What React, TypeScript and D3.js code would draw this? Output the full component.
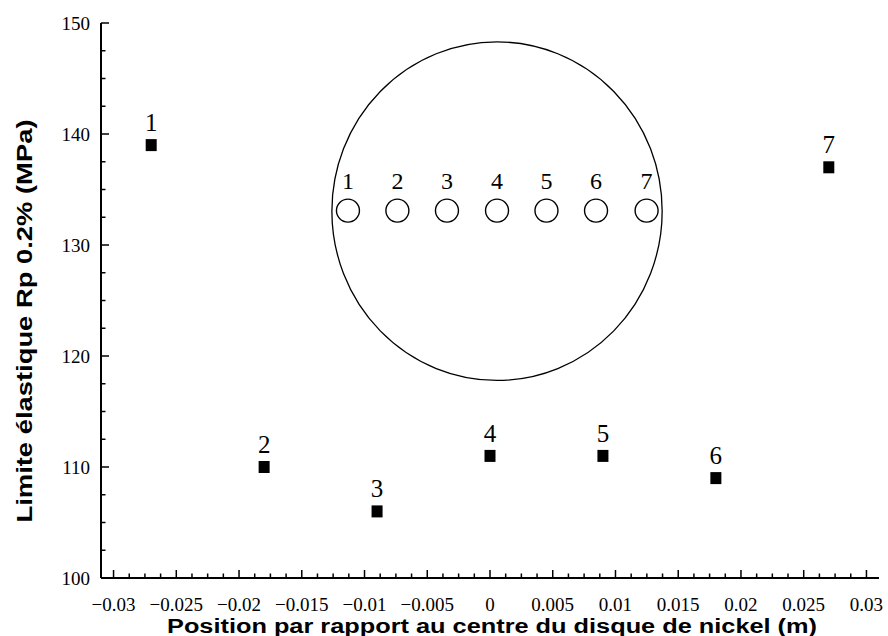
import React from "react";
import * as d3 from "d3";

const positions = [-0.027, -0.018, -0.009, 0, 0.009, 0.018, 0.027];
const yieldValues = [139, 110, 106, 111, 111, 109, 137];
const pointLabels = ["1", "2", "3", "4", "5", "6", "7"];

const xMajorTicks = [-0.03, -0.025, -0.02, -0.015, -0.01, -0.005, 0, 0.005, 0.01, 0.015, 0.02, 0.025, 0.03];
const xTickLabels = ["\u22120.03", "\u22120.025", "\u22120.02", "\u22120.015", "\u22120.01", "\u22120.005", "0", "0.005", "0.01", "0.015", "0.02", "0.025", "0.03"];
const yMajorTicks = [100, 110, 120, 130, 140, 150];
const yTickLabels = ["100", "110", "120", "130", "140", "150"];

// inset: schematic of the nickel disc with sample locations
const insetHoleX = [-0.01132, -0.00738, -0.00343, 0.00056, 0.0045, 0.00845, 0.01248];
const insetHoleY = 133.1;
const insetHoleLabels = ["1", "2", "3", "4", "5", "6", "7"];
const discCenter = [0.00056, 133.05];
const discRadius = [0.01316, 15.25];

const W = 888;
const H = 636;
const M = { left: 101, top: 23, right: 9, bottom: 58 };

export default function App() {
  const x = d3.scaleLinear().domain([-0.031, 0.031]).range([M.left, W - M.right]);
  const y = d3.scaleLinear().domain([100, 150]).range([H - M.bottom, M.top]);

  const xMinor = d3.range(-0.03, 0.0301, 0.00125).filter(
    (v) => !xMajorTicks.some((m) => Math.abs(m - v) < 1e-9)
  );
  const yMinor = d3.range(100, 150.01, 2.5).filter((v) => v % 10 !== 0);

  const serif = "'Liberation Serif', 'Times New Roman', serif";
  const sans = "'Liberation Sans', Arial, sans-serif";
  const x0 = M.left;
  const yBase = H - M.bottom;

  return (
    <svg width={W} height={H} style={{ position: "absolute", left: 0, top: 0, background: "#fff" }}>
      <rect x={0} y={0} width={W} height={H} fill="#fff" />
      {/* axes */}
      <line x1={x0} x2={x0} y1={M.top} y2={yBase} stroke="#000" strokeWidth={2} />
      <line x1={x0} x2={W - M.right} y1={yBase} y2={yBase} stroke="#000" strokeWidth={2} />
      {xMajorTicks.map((v, i) => (
        <g key={"xt" + i}>
          <line x1={x(v)} x2={x(v)} y1={yBase} y2={yBase - 8} stroke="#000" strokeWidth={1.5} />
          <text x={x(v)} y={yBase + 33} textAnchor="middle" fontFamily={serif} fontSize={19}>
            {xTickLabels[i]}
          </text>
        </g>
      ))}
      {xMinor.map((v, i) => (
        <line key={"xm" + i} x1={x(v)} x2={x(v)} y1={yBase} y2={yBase - 4.5} stroke="#000" strokeWidth={1.5} />
      ))}
      {yMajorTicks.map((v, i) => (
        <g key={"yt" + i}>
          <line x1={x0} x2={x0 + 8} y1={y(v)} y2={y(v)} stroke="#000" strokeWidth={1.5} />
          <text x={x0 - 11} y={y(v)} dy="0.35em" textAnchor="end" fontFamily={serif} fontSize={19}>
            {yTickLabels[i]}
          </text>
        </g>
      ))}
      {yMinor.map((v, i) => (
        <line key={"ym" + i} x1={x0} x2={x0 + 4.5} y1={y(v)} y2={y(v)} stroke="#000" strokeWidth={1.5} />
      ))}

      {/* axis titles */}
      <text
        x={492}
        y={633}
        textAnchor="middle"
        fontFamily={sans}
        fontWeight="bold"
        fontSize={20}
        textLength={650}
        lengthAdjust="spacingAndGlyphs"
      >
        Position par rapport au centre du disque de nickel (m)
      </text>
      <text
        transform={`translate(32, 321) rotate(-90)`}
        textAnchor="middle"
        fontFamily={sans}
        fontWeight="bold"
        fontSize={22}
        textLength={403}
        lengthAdjust="spacingAndGlyphs"
      >
        Limite élastique Rp 0.2% (MPa)
      </text>

      {/* inset disc */}
      <ellipse
        cx={x(discCenter[0])}
        cy={y(discCenter[1])}
        rx={x(discCenter[0] + discRadius[0]) - x(discCenter[0])}
        ry={y(discCenter[1] - discRadius[1]) - y(discCenter[1])}
        fill="none"
        stroke="#000"
        strokeWidth={1.3}
      />
      {insetHoleX.map((v, i) => (
        <g key={"h" + i}>
          <circle cx={x(v)} cy={y(insetHoleY)} r={11.5} fill="#fff" stroke="#000" strokeWidth={1.4} />
          <text x={x(v)} y={y(insetHoleY) - 22} textAnchor="middle" fontFamily={serif} fontSize={24}>
            {insetHoleLabels[i]}
          </text>
        </g>
      ))}

      {/* data points */}
      {positions.map((p, i) => (
        <g key={"p" + i}>
          <rect x={x(p) - 5.5} y={y(yieldValues[i]) - 6} width={11} height={12} fill="#000" />
          <text x={x(p)} y={y(yieldValues[i]) - 14} textAnchor="middle" fontFamily={serif} fontSize={25}>
            {pointLabels[i]}
          </text>
        </g>
      ))}
    </svg>
  );
}
